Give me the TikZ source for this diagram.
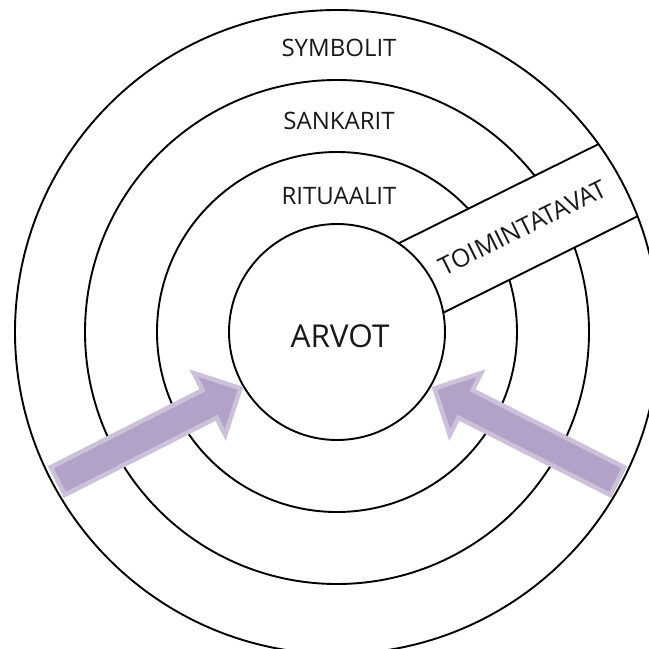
\documentclass[tikz,border=0pt]{standalone}
\usepackage{fontspec}
\setmainfont{Open Sans}
\definecolor{arrowfill}{HTML}{B3A2C7}
\definecolor{arrowedge}{HTML}{CCC1DA}
\begin{document}
\begin{tikzpicture}[x=1pt,y=-1pt,
  ring/.style={circle, draw=black, line width=1.9pt, inner sep=0pt},
  lbl/.style={font=\fontsize{24}{28}\selectfont, inner sep=0pt, text=black!90},
  fatarrow/.style={fill=arrowfill, draw=arrowedge, line width=4.5pt, line join=miter}]
\useasboundingbox (0,0) rectangle (649,649);
\clip (0,0) rectangle (649,649);
\fill[white] (0,0) rectangle (649,649);
\coordinate (ctr) at (337,332);
\node[ring, minimum size=504pt] (sank) at (ctr) {};
\node[ring, minimum size=360pt] (ritu) at (ctr) {};
% band
\begin{scope}
  \clip (ctr) circle[radius=322pt];
  \begin{scope}[shift={(332.1,322.1)}, rotate=26.4]
    \fill[white] (0,-41) rectangle (420,41);
    \draw[line width=1.9pt] (0,-41) -- (420,-41) (0,41) -- (420,41);
    \node[lbl, font=\fontsize{25}{29}\selectfont, rotate=26.4] (toim) at (212.6,0) {TOIMINTATAVAT};
  \end{scope}
\end{scope}
\node[ring, minimum size=644pt] (symb) at (ctr) {};
\node[ring, fill=white, minimum size=216pt] (arv) at (ctr) {};
% labels
\node[lbl] (symbolit) at (339,48) {SYMBOLIT};
\node[lbl] (sankarit) at (339,121) {SANKARIT};
\node[lbl] (rituaalit) at (339,196.5) {RITUAALIT};
\node[lbl, font=\fontsize{31.5}{36}\selectfont] (arvot) at (340,336.5) {ARVOT};
% arrows
\coordinate (ltail) at (56,482);
\coordinate (rtail) at (619,482);
\begin{scope}[shift={(ltail)}, rotate=26.93]
  \draw[fatarrow] (2,-15.5) -- (172.2,-15.5) -- (172.2,-34.7) -- (206.9,0) -- (172.2,34.7) -- (172.2,15.5) -- (2,15.5) -- cycle;
\end{scope}
\begin{scope}[shift={(rtail)}, rotate=153.07]
  \draw[fatarrow] (2,-15.5) -- (172.2,-15.5) -- (172.2,-34.7) -- (206.9,0) -- (172.2,34.7) -- (172.2,15.5) -- (2,15.5) -- cycle;
\end{scope}
\end{tikzpicture}
\end{document}
